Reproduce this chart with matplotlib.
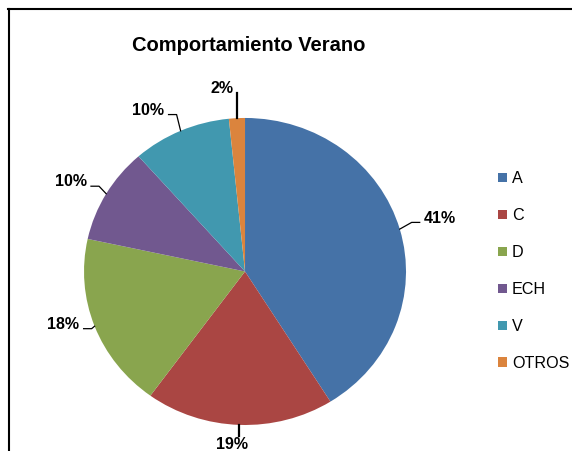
import numpy as np
import matplotlib.pyplot as plt
from matplotlib.lines import Line2D

plt.rcParams['font.family'] = ['Liberation Sans', 'DejaVu Sans']

# data (labels show rounded percentages)
categories = ['A', 'C', 'D', 'ECH', 'V', 'OTROS']
values = [41.1, 18.9, 18.4, 10.1, 9.9, 1.6]
colors = ['#4572A7', '#AA4643', '#89A54E', '#71588F', '#4198AF', '#DB843D']
title = 'Comportamiento Verano'

# label placement (radius, angle shift in degrees, leader style)
label_r = [1.26, 1.13, 1.18, 1.23, 1.21, 1.20]
label_shift = [0.0, -2.0, -3.9, 2.1, 6.2, 4.0]
leader = ['side', 'vert', 'side', 'side', 'side', 'vert']

fig = plt.figure(figsize=(5.72, 4.51), dpi=100)
ax = fig.add_axes([0.0906, -0.0104, 0.6755, 0.8169])

wedges, _ = ax.pie(values, colors=colors, startangle=90, counterclock=False,
                   radius=1.0, wedgeprops=dict(linewidth=0))
ax.set_aspect('auto')
ax.set_xlim(-1.2, 1.2)
ax.set_ylim(-1.2, 1.2)
ax.axis('off')

total = float(sum(values))
cum = np.cumsum([0] + values)
for i, v in enumerate(values):
    mid = 90 - 360 * (cum[i] + v / 2) / total
    m = np.deg2rad(mid)
    px, py = np.cos(m), np.sin(m)
    a = np.deg2rad(mid + label_shift[i])
    lx, ly = label_r[i] * np.cos(a), label_r[i] * np.sin(a)
    txt = f'{v / total * 100:.0f}%'
    ax.text(lx, ly, txt, ha='center', va='center', fontsize=11.5,
            fontweight='bold', clip_on=False)
    hw = 0.052 * len(txt) - 0.05
    if leader[i] == 'side':
        sgn = 1 if lx > px else -1
        qx = lx - sgn * (hw + 0.02)
        ex = qx - sgn * 0.05
        qy = ly - 0.028
        ax.plot([px, ex, qx], [py, qy, qy], color='black', lw=0.9,
                clip_on=False)
    else:
        end = ly - 0.026 if ly > 0 else ly + 0.058
        ax.plot([px, px], [py, end], color='black', lw=1.6, clip_on=False)

fig.text(0.4353, 0.90, title, ha='center', va='center', fontsize=14.5,
         fontweight='bold')

leg = ax.legend(wedges, categories, loc='upper left',
                bbox_to_anchor=(0.857, 0.638), bbox_transform=fig.transFigure,
                frameon=False, fontsize=11.6, handlelength=0.52,
                handleheight=0.52, handletextpad=0.33, labelspacing=1.36,
                borderpad=0)

# chart frame
fig.add_artist(Line2D([8 / 572, 1.0], [1 - 9 / 451, 1 - 9 / 451],
                      transform=fig.transFigure, color='black', lw=1.5))
fig.add_artist(Line2D([9 / 572, 9 / 572], [0, 1 - 9 / 451],
                      transform=fig.transFigure, color='black', lw=1.5))

fig.savefig('out.png', dpi=100)
